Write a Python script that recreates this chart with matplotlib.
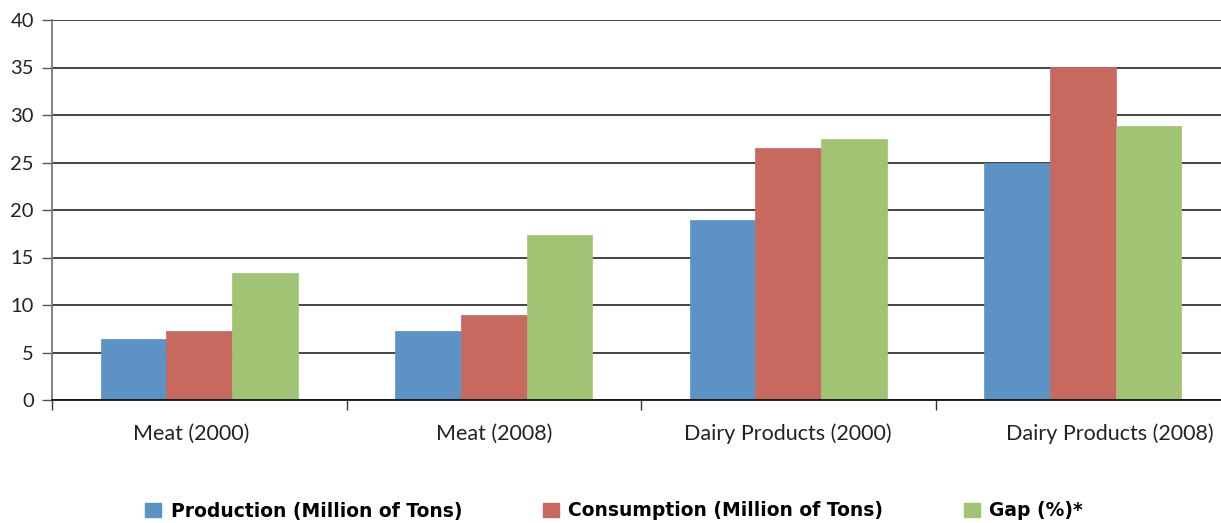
import matplotlib
matplotlib.use("Agg")
import matplotlib.pyplot as plt
import matplotlib.transforms as mtransforms
from matplotlib.patches import Patch
import numpy as np

categories = ["Meat (2000)", "Meat (2008)", "Dairy Products (2000)", "Dairy Products (2008)"]
series_names = ["Production (Million of Tons)", "Consumption (Million of Tons)", "Gap (%)*"]
production = [6.4, 7.3, 18.9, 25.0]
consumption = [7.3, 8.9, 26.5, 35.1]
gap = [13.4, 17.4, 27.5, 28.8]
colors = ["#5C92C4", "#C8695F", "#A1C374"]
yticks = [0, 5, 10, 15, 20, 25, 30, 35, 40]

plt.rcParams['font.family'] = ['Lato', 'DejaVu Sans']

W, H = 1221, 523
fig = plt.figure(figsize=(W / 100, H / 100), dpi=100)
left_px, right_px, top_px, bot_px = 52, 1230, 20, 400
ax = fig.add_axes([left_px / W, 1 - bot_px / H, (right_px - left_px) / W, (bot_px - top_px) / H])

x = np.arange(len(categories))
bw = 0.2225
for i, (vals, c) in enumerate(zip([production, consumption, gap], colors)):
    ax.bar(x + (i - 1) * bw, vals, width=bw, color=c, edgecolor=c, linewidth=0.5, zorder=2)

ax.set_xlim(-0.5, len(categories) - 0.5)
ax.set_ylim(0, 40)
ax.set_yticks(yticks)
ax.set_yticklabels([str(v) for v in yticks], fontsize=14.5, color="#222222")
ax.yaxis.grid(True, color="#111111", linewidth=1.1, zorder=0)
ax.set_axisbelow(True)

ax.set_xticks(x)
ax.set_xticklabels(categories, fontsize=15.5, color="#222222")
ax.set_xticks(np.arange(-0.5, len(categories)), minor=True)
ax.tick_params(axis="x", which="major", length=0, pad=17)
ax.tick_params(axis="x", which="minor", length=7, width=1, color="#333333", direction="out")
ax.tick_params(axis="y", length=7, width=1, color="#555555", pad=6)

labels = ax.get_xticklabels()
offsets = [-8, 0, 0, 27]
for lab, off in zip(labels, offsets):
    lab.set_transform(lab.get_transform() + mtransforms.ScaledTranslation(off / 100, 0, fig.dpi_scale_trans))

for s in ["top", "right"]:
    ax.spines[s].set_visible(False)
ax.spines["left"].set_color("#777777")
ax.spines["left"].set_linewidth(1.3)
ax.spines["bottom"].set_color("#111111")
ax.spines["bottom"].set_linewidth(1.3)

handles = [Patch(facecolor=c, edgecolor=c) for c in colors]
leg = fig.legend(handles, series_names, loc="center", bbox_to_anchor=(0.503, 1 - 511 / H),
                 ncol=3, frameon=False, handlelength=0.85, handleheight=0.85, handletextpad=0.5,
                 columnspacing=4.3, prop={"family": "DejaVu Sans", "weight": "bold", "size": 13.5})

fig.savefig("out.png", dpi=100)
